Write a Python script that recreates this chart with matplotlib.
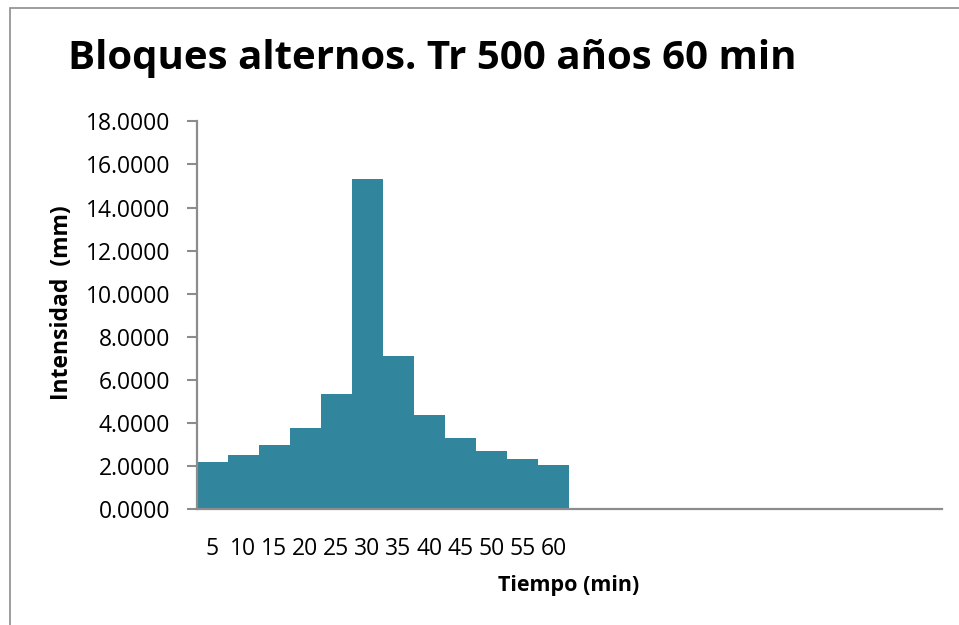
import matplotlib.pyplot as plt
import matplotlib.patches as patches
import numpy as np

# Bloques alternos, Tr 500 años, duración 60 min
tiempos = ['5', '10', '15', '20', '25', '30', '35', '40', '45', '50', '55', '60']
intensidad = [2.18, 2.50, 2.98, 3.76, 5.33, 15.34, 7.13, 4.38, 3.31, 2.72, 2.32, 2.04]
n_huecos = 12  # categorías vacías a la derecha

plt.rcParams['font.family'] = ['Open Sans', 'DejaVu Sans']

fig = plt.figure(figsize=(9.59, 6.25), dpi=100)
ax = fig.add_axes([0.2051, 0.1851, 0.7772, 0.6208])

# marco del gráfico
marco = patches.Rectangle((10/959, -0.05), 1.2, 1 - 8/625 + 0.05, transform=fig.transFigure,
                          fill=False, edgecolor='#8c8c8c', linewidth=1.2)
fig.patches.append(marco)

x = np.arange(len(tiempos))
ax.bar(x, intensidad, width=1.0, color='#31859C', linewidth=0)

ax.set_xlim(-0.5, len(tiempos) + n_huecos - 0.5)
ax.set_ylim(0, 18)
ax.set_yticks(np.arange(0, 18.1, 2))
ax.set_yticklabels(['%.4f' % v for v in np.arange(0, 18.1, 2)], fontsize=16.5)
ax.set_xticks(x)
ax.set_xticklabels(tiempos, fontsize=16.5)
ax.tick_params(axis='x', length=0, pad=20)
ax.tick_params(axis='y', length=7, width=1.5, color='#8c8c8c', pad=12)

for s in ['top', 'right']:
    ax.spines[s].set_visible(False)
for s in ['left', 'bottom']:
    ax.spines[s].set_color('#8c8c8c')
    ax.spines[s].set_linewidth(1.6)

fig.text(68/959, 1 - 58/625, 'Bloques alternos. Tr 500 años 60 min', fontsize=29,
         fontweight='bold', ha='left', va='center')
fig.text(569/959, 1 - 585/625, 'Tiempo (min)', fontsize=15.5, fontweight='bold',
         ha='center', va='center')
fig.text(62/959, 1 - 303/625, 'Intensidad  (mm)', fontsize=16.5, fontweight='bold',
         ha='center', va='center', rotation=90)

fig.savefig('out.png', dpi=100)
